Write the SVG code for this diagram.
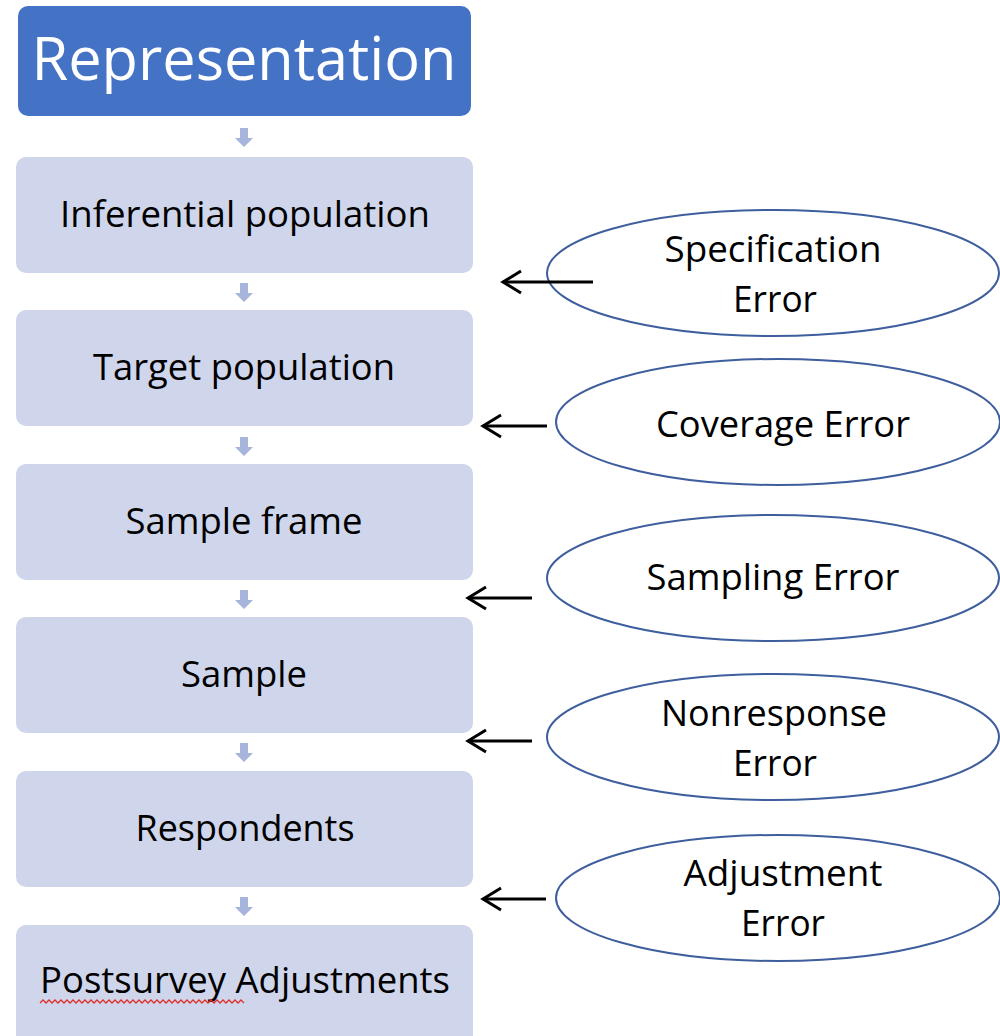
<svg xmlns="http://www.w3.org/2000/svg" width="1000" height="1036" viewBox="0 0 1000 1036">
<defs>
<style>
.box{fill:#CFD5EA;}
.hdr{fill:#4472C4;}
.lbl{font-family:"Open Sans","Liberation Sans",sans-serif;font-size:37px;fill:#000;text-anchor:middle;}
.ttl{font-family:"Open Sans","Liberation Sans",sans-serif;font-size:60px;fill:#fff;text-anchor:middle;}
.ell{fill:#fff;stroke:#3F5E9E;stroke-width:2;}
.dn{fill:#A7B5DC;}
.con{stroke:#000;stroke-width:3;fill:none;}
</style>
<marker id="ah" markerWidth="24" markerHeight="26" refX="21" refY="13" orient="auto" markerUnits="userSpaceOnUse">
<path d="M3,2 L21,13 L3,24" fill="none" stroke="#000" stroke-width="3"/>
</marker>
<polygon id="dnarrow" class="dn" points="-4,0 4,0 4,10 9,10 0,19 -9,10 -4,10"/>
</defs>
<rect width="1000" height="1036" fill="#fff"/>
<g id="n-representation"><rect class="hdr" x="18" y="6" width="453" height="110" rx="10"/><text class="ttl" x="244" y="80" textLength="425" lengthAdjust="spacingAndGlyphs">Representation</text></g>
<g id="n-inferential"><rect class="box" x="16" y="157" width="457" height="116" rx="10"/><text class="lbl" x="245" y="227" textLength="370" lengthAdjust="spacingAndGlyphs">Inferential population</text></g>
<g id="n-target"><rect class="box" x="16" y="310" width="457" height="116" rx="10"/><text class="lbl" x="244" y="380" textLength="302" lengthAdjust="spacingAndGlyphs">Target population</text></g>
<g id="n-frame"><rect class="box" x="16" y="464" width="457" height="116" rx="10"/><text class="lbl" x="244" y="534" textLength="237" lengthAdjust="spacingAndGlyphs">Sample frame</text></g>
<g id="n-sample"><rect class="box" x="16" y="617" width="457" height="116" rx="10"/><text class="lbl" x="244" y="687" textLength="126" lengthAdjust="spacingAndGlyphs">Sample</text></g>
<g id="n-respondents"><rect class="box" x="16" y="771" width="457" height="116" rx="10"/><text class="lbl" x="245" y="841" textLength="219" lengthAdjust="spacingAndGlyphs">Respondents</text></g>
<g id="n-postsurvey"><rect class="box" x="16" y="925" width="457" height="130" rx="10"/><text class="lbl" x="245" y="993" textLength="410" lengthAdjust="spacingAndGlyphs">Postsurvey Adjustments</text>
<path d="M40,1003 l3,-3 l3,3 l3,-3 l3,3 l3,-3 l3,3 l3,-3 l3,3 l3,-3 l3,3 l3,-3 l3,3 l3,-3 l3,3 l3,-3 l3,3 l3,-3 l3,3 l3,-3 l3,3 l3,-3 l3,3 l3,-3 l3,3 l3,-3 l3,3 l3,-3 l3,3 l3,-3 l3,3 l3,-3 l3,3 l3,-3 l3,3 l3,-3 l3,3 l3,-3 l3,3 l3,-3 l3,3 l3,-3 l3,3 l3,-3 l3,3 l3,-3 l3,3 l3,-3 l3,3 l3,-3 l3,3 l3,-3 l3,3 l3,-3 l3,3 l3,-3 l3,3 l3,-3 l3,3 l3,-3 l3,3 l3,-3 l3,3 l3,-3 l3,3 l3,-3 l3,3 l3,-3 l3,3" fill="none" stroke="#E0302A" stroke-width="1.3"/></g>
<g id="e-specification"><ellipse class="ell" cx="773" cy="273" rx="226" ry="63"/><text class="lbl" x="773" y="262" textLength="217" lengthAdjust="spacingAndGlyphs">Specification</text><text class="lbl" x="775" y="312" textLength="84" lengthAdjust="spacingAndGlyphs">Error</text></g>
<g id="e-coverage"><ellipse class="ell" cx="778" cy="422" rx="222" ry="63"/><text class="lbl" x="783" y="437" textLength="254" lengthAdjust="spacingAndGlyphs">Coverage Error</text></g>
<g id="e-sampling"><ellipse class="ell" cx="773" cy="578" rx="226" ry="63"/><text class="lbl" x="773" y="590" textLength="253" lengthAdjust="spacingAndGlyphs">Sampling Error</text></g>
<g id="e-nonresponse"><ellipse class="ell" cx="773" cy="737" rx="226" ry="63"/><text class="lbl" x="774" y="726" textLength="226" lengthAdjust="spacingAndGlyphs">Nonresponse</text><text class="lbl" x="775" y="776" textLength="84" lengthAdjust="spacingAndGlyphs">Error</text></g>
<g id="e-adjustment"><ellipse class="ell" cx="778" cy="898" rx="222" ry="63"/><text class="lbl" x="783" y="886" textLength="199" lengthAdjust="spacingAndGlyphs">Adjustment</text><text class="lbl" x="783" y="936" textLength="84" lengthAdjust="spacingAndGlyphs">Error</text></g>
<g id="connectors">
<use href="#dnarrow" x="244" y="128"/>
<use href="#dnarrow" x="244" y="283"/>
<use href="#dnarrow" x="244" y="437"/>
<use href="#dnarrow" x="244" y="590"/>
<use href="#dnarrow" x="244" y="743"/>
<use href="#dnarrow" x="244" y="897"/>
<line class="con" x1="593" y1="282" x2="503" y2="282" marker-end="url(#ah)"/>
<line class="con" x1="547" y1="426" x2="483" y2="426" marker-end="url(#ah)"/>
<line class="con" x1="532" y1="598" x2="468" y2="598" marker-end="url(#ah)"/>
<line class="con" x1="532" y1="741" x2="468" y2="741" marker-end="url(#ah)"/>
<line class="con" x1="546" y1="899" x2="483" y2="899" marker-end="url(#ah)"/>
</g>
</svg>
